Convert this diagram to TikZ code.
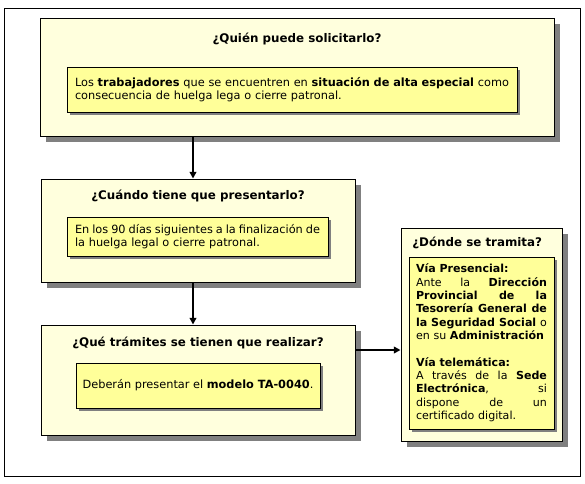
\documentclass[tikz,border=0pt]{standalone}
\usepackage{fontspec}
\setmainfont{DejaVu Sans}
\usetikzlibrary{arrows.meta,shadows}
\definecolor{outerfill}{RGB}{255,255,221}
\definecolor{innerfill}{RGB}{255,255,153}
\definecolor{shadowgray}{RGB}{128,128,128}
\newcommand\mybody{\fontsize{8.5pt}{10pt}\selectfont}
\newcommand\mybodysmall{\fontsize{8.3pt}{10pt}\selectfont}
\newcommand\mytitle{\fontsize{8.9pt}{10pt}\selectfont\bfseries}
\newcommand\jl[1]{\hbox to \hsize{\spaceskip=0.3em plus 3em minus 0.1em\relax #1}}
\tikzset{
 outerbox/.style={draw=black, line width=0.75pt, fill=outerfill, inner sep=0pt,
   drop shadow={shadow xshift=4.5pt, shadow yshift=-4.5pt, fill=shadowgray, opacity=1}},
 innerbox/.style={draw=black, line width=0.75pt, fill=innerfill, inner ysep=0pt,
   drop shadow={shadow xshift=2.25pt, shadow yshift=-2.25pt, fill=shadowgray, opacity=1},
   font=\mybody, align=left},
 titletext/.style={font=\mytitle, inner sep=0pt},
 arr/.style={line width=1.5pt, -{Triangle[length=5pt,width=5pt]}},
}
\begin{document}
\begin{tikzpicture}[x=0.75pt,y=-0.75pt]
\useasboundingbox (0,0) rectangle (585,483);
\node[draw, line width=0.75pt, minimum width=432pt, minimum height=351pt, inner sep=0pt] (frame) at (292,242) {};

% box 1
\node[outerbox, minimum width=385.5pt, minimum height=88.5pt] (box1) at (297,77) {};
\node[titletext] (t1) at (297,39) {¿Quién puede solicitarlo?};
\node[innerbox, minimum width=337.5pt, minimum height=33.75pt, text width=325.5pt, inner xsep=6pt] (in1) at (292,89.5)
 {\jl{Los \textbf{trabajadores} que se encuentren en \textbf{situación de alta especial} como}
  consecuencia de huelga lega o cierre patronal.};

% box 2
\node[outerbox, minimum width=235.5pt, minimum height=77.25pt] (box2) at (198,230.5) {};
\node[titletext] (t2) at (198,196) {¿Cuándo tiene que presentarlo?};
\node[innerbox, minimum width=195.75pt, minimum height=29.25pt, text width=183.75pt, inner xsep=6pt] (in2) at (197.5,236.5)
 {\jl{En los 90 días siguientes a la finalización de}
  la huelga legal o cierre patronal.};

% box 3
\node[outerbox, minimum width=235.5pt, minimum height=82.5pt] (box3) at (198,380) {};
\node[titletext] (t3) at (198,343) {¿Qué trámites se tienen que realizar?};
\node[innerbox, minimum width=183pt, minimum height=33.75pt, align=center] (in3) at (198,385.5)
 {Deberán presentar el \textbf{modelo TA-0040}.};

% box 4
\node[outerbox, minimum width=120.75pt, minimum height=159.75pt] (box4) at (481.5,334.5) {};
\node[titletext, anchor=west] (t4) at (412,243) {¿Dónde se tramita?};
\node[innerbox, font=\mybodysmall, minimum width=108.75pt, minimum height=129pt, text width=98.25pt, inner xsep=5.25pt] (in4) at (481.5,343)
 {\textbf{Vía Presencial:}\\
  \jl{Ante la \textbf{Dirección}}
  \jl{\textbf{Provincial de la}}
  \jl{\textbf{Tesorería General de}}
  \jl{\textbf{la Seguridad Social} o}
  en su \textbf{Administración}\\[10pt]
  \textbf{Vía telemática:}\\
  \jl{A través de la \textbf{Sede}}
  \jl{\textbf{Electrónica}, si}
  \jl{dispone de un}
  certificado digital.};

% connectors
\coordinate (ax) at (193,0);
\coordinate (ay) at (0,350);
\draw[arr] (box1.south -| ax) -- (box2.north -| ax);
\draw[arr] (box2.south -| ax) -- (box3.north -| ax);
\draw[arr] (box3.east |- ay) -- (box4.west |- ay);
\end{tikzpicture}
\end{document}
